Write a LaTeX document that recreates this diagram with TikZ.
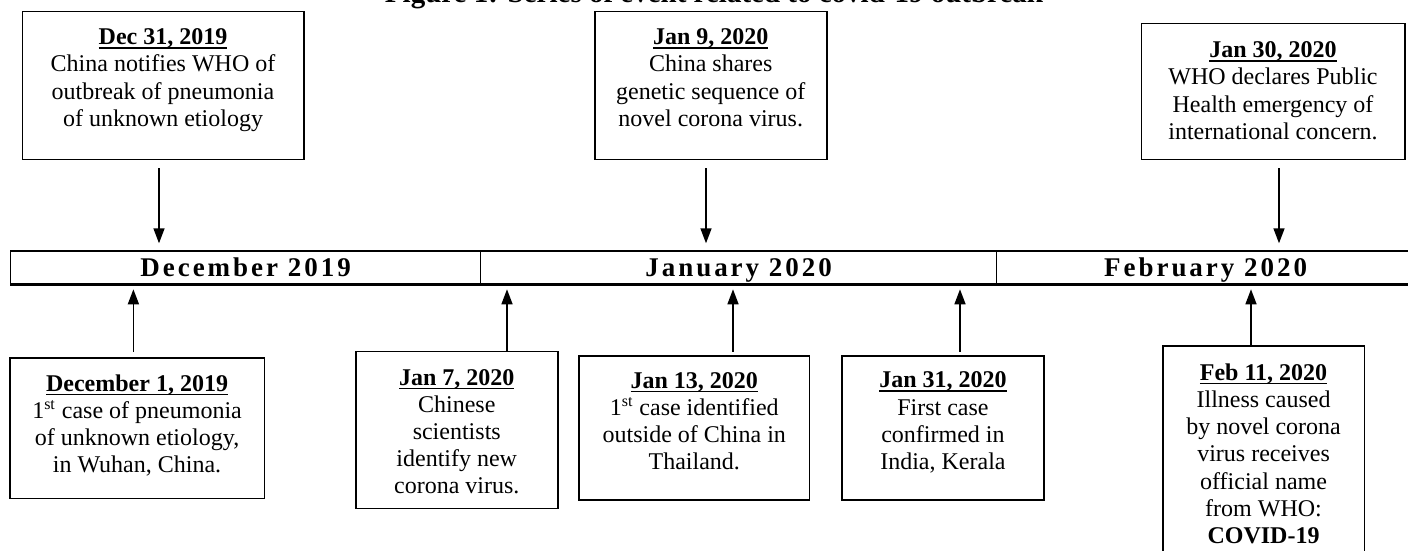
\documentclass[tikz,border=0pt]{standalone}
\usepackage{fontspec}
\setmainfont{Liberation Serif}
\newfontfamily\monthfont[LetterSpace=11]{Liberation Serif}
\usepackage{tikz}
\usetikzlibrary{arrows.meta,positioning}
\newcommand{\evdate}[1]{\textbf{\setbox0\hbox{#1}\rlap{\rule[-2pt]{\wd0}{0.75pt}}\box0}}
\tikzset{
  evbox/.style={draw, line width=0.75pt, inner sep=0pt, anchor=north west},
  evtext/.style={align=center, inner sep=0pt, font=\fontsize{12}{13.6}\selectfont},
  month/.style={draw, line width=0.6pt, inner sep=0pt, minimum height=16.3pt, anchor=north west,
    text height=9pt, text depth=0pt, font=\monthfont\bfseries\fontsize{13.5}{15}\selectfont},
  evarrow/.style={-{Triangle[length=7.5pt,width=5.5pt]}, line width=0.75pt}
}
\begin{document}
\begin{tikzpicture}[x=0.5pt, y=-0.5pt]
\useasboundingbox (0,0) rectangle (1408,551);
\node[font=\bfseries\fontsize{14.5}{16}\selectfont, anchor=base] (title) at (714,3) {Figure 1: Series of event related to covid-19 outbreak};

% time line
\node[month, minimum width=235pt] (dec) at (10,250.7) {December 2019};
\node[month, minimum width=258pt] (jan) at (480,250.7) {January 2020};
\node[month, minimum width=209pt] (feb) at (996,250.7) {February 2020};
\draw[line width=1pt] (dec.north west) -- (feb.north east);
\draw[line width=1pt] (dec.south west) -- (feb.south east);

% events above the line
\node[evbox, minimum width=140.75pt, minimum height=74.15pt] (d31) at (21.5,10.7) {};
\node[evtext, below=8.8pt of d31.north] (d31t) {\evdate{Dec 31, 2019}\\China notifies WHO of\\outbreak of pneumonia\\of unknown etiology};
\node[evbox, minimum width=116pt, minimum height=74.15pt] (j9) at (594,10.7) {};
\node[evtext, below=8.8pt of j9.north] (j9t) {\evdate{Jan 9, 2020}\\China shares\\genetic sequence of\\novel corona virus.};
\node[evbox, minimum width=131.75pt, minimum height=68.15pt] (j30) at (1140.5,22.7) {};
\node[evtext, below=9.3pt of j30.north] (j30t) {\evdate{Jan 30, 2020}\\WHO declares Public\\Health emergency of\\international concern.};

\coordinate (t1) at (159,243.3);
\coordinate (t2) at (706,243.3);
\coordinate (t3) at (1279,243.3);
\draw[evarrow, shorten <=3.8pt] (d31.south -| t1) -- (t1);
\draw[evarrow, shorten <=3.8pt] (j9.south -| t2) -- (t2);
\draw[evarrow, shorten <=3.8pt] (j30.south -| t3) -- (t3);

% events below the line
\node[evbox, minimum width=127.3pt, minimum height=70.35pt] (dc1) at (9,357) {};
\node[evtext, below=8.5pt of dc1.north] (dc1t) {\evdate{December 1, 2019}\\1\textsuperscript{st} case of pneumonia\\of unknown etiology,\\in Wuhan, China.};
\node[evbox, minimum width=101pt, minimum height=78.5pt] (j7) at (355,350.7) {};
\node[evtext, below=9pt of j7.north] (j7t) {\evdate{Jan 7, 2020}\\Chinese\\scientists\\identify new\\corona virus.};
\node[evbox, minimum width=115.1pt, minimum height=72pt] (j13) at (578.4,355.3) {};
\node[evtext, below=8.3pt of j13.north] (j13t) {\evdate{Jan 13, 2020}\\1\textsuperscript{st} case identified\\outside of China in\\Thailand.};
\node[evbox, minimum width=100.8pt, minimum height=72.15pt] (j31) at (841.4,355) {};
\node[evtext, below=8.3pt of j31.north] (j31t) {\evdate{Jan 31, 2020}\\First case\\confirmed in\\India, Kerala};
\node[evbox, minimum width=100.8pt, minimum height=120pt] (f11) at (1162,345.3) {};
\node[evtext, below=9pt of f11.north] (f11t) {\evdate{Feb 11, 2020}\\Illness caused\\by novel corona\\virus receives\\official name\\from WHO:\\\textbf{COVID-19}};

\coordinate (b1) at (133.4,289.3);
\coordinate (b2) at (507,289.3);
\coordinate (b3) at (733,289.3);
\coordinate (b4) at (960,289.3);
\coordinate (b5) at (1251,289.3);
\draw[evarrow, shorten <=2.6pt] (dc1.north -| b1) -- (b1);
\draw[evarrow] (j7.north -| b2) -- (b2);
\draw[evarrow, shorten <=1.8pt] (j13.north -| b3) -- (b3);
\draw[evarrow, shorten <=1.6pt] (j31.north -| b4) -- (b4);
\draw[evarrow] (f11.north -| b5) -- (b5);
\end{tikzpicture}
\end{document}
